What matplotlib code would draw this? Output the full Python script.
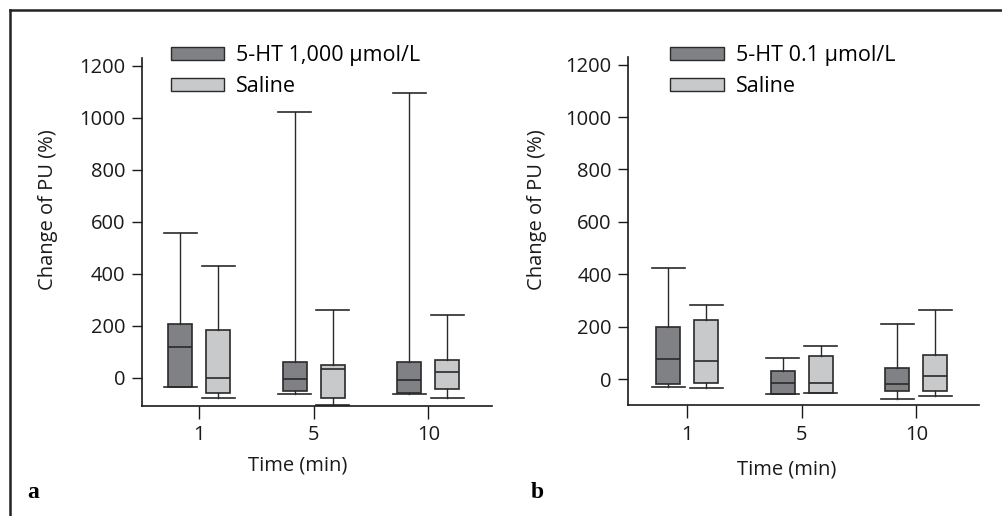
import matplotlib
matplotlib.use("Agg")
import matplotlib.pyplot as plt
from matplotlib.patches import Patch
from matplotlib.lines import Line2D

plt.rcParams['font.family'] = ['Open Sans', 'DejaVu Sans']

# ---------------- data ----------------
times = ["1", "5", "10"]

# Panel a: 5-HT 1,000 umol/L vs saline
a_ht_whislo = [-37, -64, -63]
a_ht_q1 = [-37, -51, -60]
a_ht_med = [117, -5, -10]
a_ht_q3 = [206, 59, 62]
a_ht_whishi = [555, 1020, 1093]

a_sal_whislo = [-79, -105, -77]
a_sal_q1 = [-58, -79, -43]
a_sal_med = [-2, 32, 21]
a_sal_q3 = [182, 48, 68]
a_sal_whishi = [431, 259, 240]

# Panel b: 5-HT 0.1 umol/L vs saline
b_ht_whislo = [-29, -55, -75]
b_ht_q1 = [-18, -55, -45]
b_ht_med = [75, -14, -18]
b_ht_q3 = [200, 29, 41]
b_ht_whishi = [425, 81, 211]

b_sal_whislo = [-34, -52, -64]
b_sal_q1 = [-13, -52, -47]
b_sal_med = [69, -14, 13]
b_sal_q3 = [226, 87, 93]
b_sal_whishi = [281, 126, 262]

legend_a = ["5-HT 1,000 µmol/L", "Saline"]
legend_b = ["5-HT 0.1 µmol/L", "Saline"]
yticks = [0, 200, 400, 600, 800, 1000, 1200]

# ---------------- style ----------------
DARK = "#808184"
LIGHT = "#c8c9cb"
EDGE = "#2a2a2a"
W = 1002 / 100
H = 516 / 100

fig = plt.figure(figsize=(W, H), dpi=100)


def stats(lo, q1, med, q3, hi):
    return [dict(whislo=lo[i], q1=q1[i], med=med[i], q3=q3[i], whishi=hi[i],
                 fliers=[]) for i in range(len(lo))]


def draw_group(ax, st, positions, color):
    ax.bxp(st, positions=positions, widths=0.21, capwidths=0.29,
           patch_artist=True, showfliers=False, manage_ticks=False,
           boxprops=dict(facecolor=color, edgecolor=EDGE, linewidth=1.2),
           medianprops=dict(color=EDGE, linewidth=1.2),
           whiskerprops=dict(color=EDGE, linewidth=1.0),
           capprops=dict(color=EDGE, linewidth=1.2))


def panel(rect, ylim, xlim, ht, sal, labels, leg_anchor):
    ax = fig.add_axes(rect)
    xs = list(range(len(times)))
    draw_group(ax, stats(*ht), [x - 0.165 for x in xs], DARK)
    draw_group(ax, stats(*sal), [x + 0.165 for x in xs], LIGHT)
    ax.set_xlim(*xlim)
    ax.set_ylim(*ylim)
    ax.set_xticks(xs)
    ax.set_xticklabels(times)
    ax.set_yticks(yticks)
    for s in ("top", "right"):
        ax.spines[s].set_visible(False)
    for s in ("left", "bottom"):
        ax.spines[s].set_linewidth(1.2)
        ax.spines[s].set_color("#1a1a1a")
    ax.tick_params(axis="both", labelsize=14.5, colors="#1a1a1a",
                   width=1.0, length=7)
    ax.tick_params(axis="y", direction="out", length=7, pad=5)
    ax.tick_params(axis="x", length=9, pad=5)
    handles = [Patch(facecolor=DARK, edgecolor=EDGE, linewidth=1.0),
               Patch(facecolor=LIGHT, edgecolor=EDGE, linewidth=1.0)]
    fig.legend(handles, labels, loc="upper left",
               bbox_to_anchor=leg_anchor, bbox_transform=fig.transFigure,
               frameon=False, fontsize=15.5, handlelength=2.5,
               handleheight=0.55, handletextpad=0.55, labelspacing=0.45,
               borderpad=0, borderaxespad=0)
    return ax


ax_a = panel([142 / 1002, 1 - 406 / 516, (491.7 - 142) / 1002, (406 - 58.3) / 516],
             (-109, 1228), (-0.5, 2.554),
             (a_ht_whislo, a_ht_q1, a_ht_med, a_ht_q3, a_ht_whishi),
             (a_sal_whislo, a_sal_q1, a_sal_med, a_sal_q3, a_sal_whishi),
             legend_a, (170.5 / 1002, 1 - 45.5 / 516))

ax_b = panel([628.3 / 1002, 1 - 405.3 / 516, (979 - 628.3) / 1002, (405.3 - 57.3) / 516],
             (-100, 1228), (-0.515, 2.548),
             (b_ht_whislo, b_ht_q1, b_ht_med, b_ht_q3, b_ht_whishi),
             (b_sal_whislo, b_sal_q1, b_sal_med, b_sal_q3, b_sal_whishi),
             legend_b, (670 / 1002, 1 - 45.5 / 516))

# axis labels placed like the reference
for cx, cy in ((48, 210), (536.7, 210)):
    fig.text(cx / 1002, 1 - cy / 516, "Change of PU (%)", rotation=90,
             ha="center", va="center", fontsize=14.5, color="#1a1a1a")
for cx, cy in ((298, 466), (786.7, 469)):
    fig.text(cx / 1002, 1 - cy / 516, "Time (min)", ha="center",
             va="center", fontsize=14.5, color="#1a1a1a")

# panel letters
fig.text(33 / 1002, 1 - 493 / 516, "a", ha="center", va="center",
         fontsize=17, fontweight="bold", family="Liberation Serif")
fig.text(537 / 1002, 1 - 492 / 516, "b", ha="center", va="center",
         fontsize=17, fontweight="bold", family="Liberation Serif")

# outer frame lines (top and left)
fig.add_artist(Line2D([9.5 / 1002, 1.0], [1 - 9.5 / 516, 1 - 9.5 / 516],
                      transform=fig.transFigure, color="#222222", linewidth=1.8))
fig.add_artist(Line2D([9.5 / 1002, 9.5 / 1002], [0, 1 - 9.5 / 516],
                      transform=fig.transFigure, color="#222222", linewidth=1.8))

fig.savefig("out.png", dpi=100)
